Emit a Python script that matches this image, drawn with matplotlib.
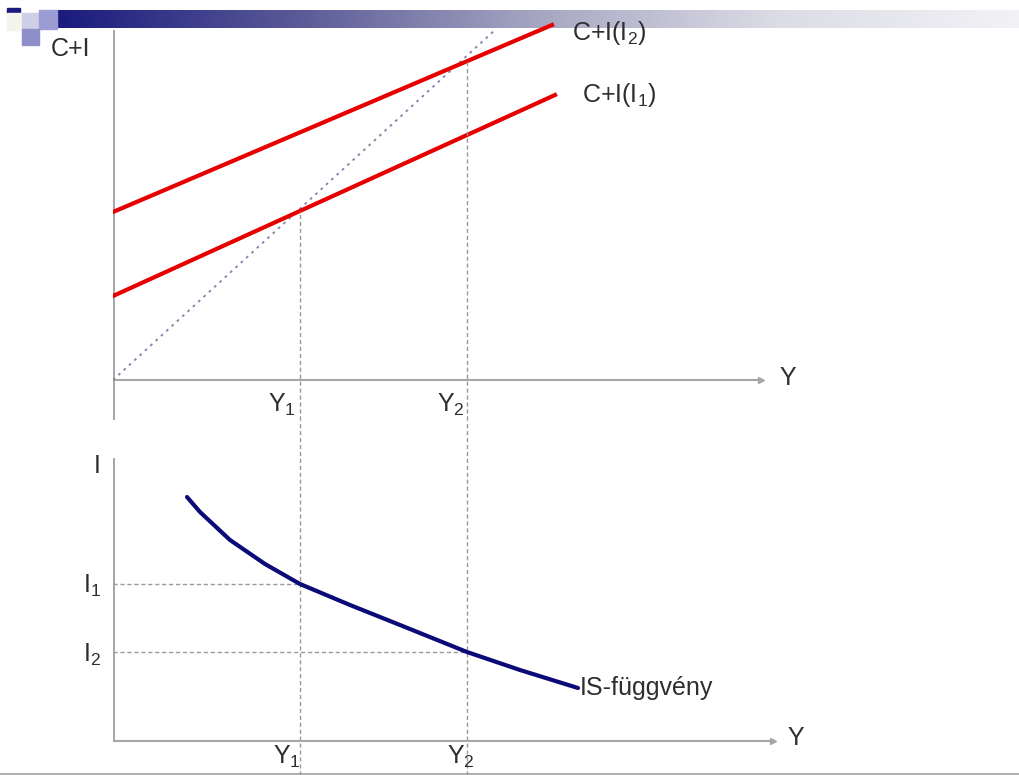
import numpy as np
import matplotlib
matplotlib.use("Agg")
import matplotlib.pyplot as plt
from matplotlib.patches import Rectangle

plt.rcParams['font.family'] = ['Liberation Sans', 'DejaVu Sans']
plt.rcParams['mathtext.fontset'] = 'custom'
plt.rcParams['mathtext.rm'] = 'Liberation Sans'
plt.rcParams['mathtext.default'] = 'regular'

# values (1 unit = 50 px)
Y1 = 3.74
Y2 = 7.08
I1 = 3.14
I2 = 1.78

line45_x = [0.0, 7.64]
line45_y = [0.0, 7.0]
ci1_x = [0.0, 8.84]
ci1_y = [1.68, 5.7]
ci2_x = [0.0, 8.78]
ci2_y = [3.36, 7.1]

is_x = [1.48, 1.74, 2.34, 3.04, 3.74, 4.74, 5.74, 7.08, 8.14, 9.3]
is_y = [4.88, 4.58, 4.02, 3.54, 3.14, 2.72, 2.32, 1.78, 1.42, 1.06]

label_color = '#2e2e2e'
axis_color = '#a6a6a6'
dash_color = '#9a9a9a'
fs = 18

W, H = 1019, 775
fig = plt.figure(figsize=(W / 100, H / 100), dpi=100)

# slide decoration at the top
deco = fig.add_axes([0, 0, 1, 1])
deco.axis('off')
grad = np.linspace(0, 1, 256)[None, :]
cmap = matplotlib.colors.LinearSegmentedColormap.from_list(
    'bar', ['#1a1a7e', '#5a5a98', '#a6a6c2', '#dcdce6', '#f2f2f6'])
deco.imshow(grad, cmap=cmap, extent=[57, W, 28, 10], aspect='auto')
deco.add_patch(Rectangle((7, 8), 13, 5, color='#1a1a7e'))
deco.add_patch(Rectangle((7, 13), 15, 17, color='#f4f4ec'))
deco.add_patch(Rectangle((22, 13), 17, 16, color='#cfcfe8'))
deco.add_patch(Rectangle((39, 10), 18, 19, color='#9c9cd4'))
deco.add_patch(Rectangle((22, 29), 17, 16, color='#8e8ec8'))
deco.plot([0, W], [773.5, 773.5], color='#b0b0b0', lw=1.5)
deco.set_xlim(0, W)
deco.set_ylim(H, 0)

left = 113 / W
width = 700 / W

# upper panel: C+I
ax1 = fig.add_axes([left, (H - 420) / H, width, 400 / H])
ax1.set_xlim(0, 14)
ax1.set_ylim(-0.8, 7.2)
ax1.axis('off')

ax1.plot([0, 0], [-0.8, 7.0], color=axis_color, lw=2.8, solid_capstyle='butt')
ax1.plot([0, 12.95], [0, 0], color=axis_color, lw=1.5)
ax1.plot([12.95], [0], marker='>', ms=4, color=axis_color)

ax1.plot(line45_x, line45_y, color='#7f84a8', lw=1.3, ls=(0, (1.5, 2.5)))
ax1.plot(ci1_x, ci1_y, color='#e60000', lw=3)
ax1.plot(ci2_x, ci2_y, color='#e60000', lw=3)

y1_top = np.interp(Y1, ci1_x, ci1_y)
y2_top = np.interp(Y2, ci2_x, ci2_y)
ax1.plot([Y1, Y1], [-0.8, y1_top], color=dash_color, lw=1, ls=(0, (3, 2)))
ax1.plot([Y2, Y2], [-0.8, y2_top], color=dash_color, lw=1, ls=(0, (3, 2)))

ax1.text(-0.86, 6.62, 'C+I', fontsize=fs, color=label_color, ha='center', va='center')
ax1.text(13.5, 0.04, 'Y', fontsize=fs, color=label_color, ha='center', va='center')
ax1.text(Y1 - 0.36, -0.5, 'Y$_1$', fontsize=fs, color=label_color, ha='center', va='center')
ax1.text(Y2 - 0.32, -0.5, 'Y$_2$', fontsize=fs, color=label_color, ha='center', va='center')
ax1.text(9.18, 6.94, 'C+I(I$_2$)', fontsize=fs, color=label_color, ha='left', va='center')
ax1.text(9.38, 5.7, 'C+I(I$_1$)', fontsize=fs, color=label_color, ha='left', va='center')

# lower panel: IS curve
ax2 = fig.add_axes([left, 0, width, 355 / H])
ax2.set_xlim(0, 14)
ax2.set_ylim(-0.68, 6.42)
ax2.axis('off')

ax2.plot([0, 0], [0, 5.66], color=axis_color, lw=2.8, solid_capstyle='butt')
ax2.plot([0, 13.2], [0, 0], color=axis_color, lw=1.5)
ax2.plot([13.2], [0], marker='>', ms=4, color=axis_color)

ax2.plot([Y1, Y1], [-0.68, 6.42], color=dash_color, lw=1, ls=(0, (3, 2)))
ax2.plot([Y2, Y2], [-0.68, 6.42], color=dash_color, lw=1, ls=(0, (3, 2)))
ax2.plot([0, Y1], [I1, I1], color=dash_color, lw=1, ls=(0, (3, 2)))
ax2.plot([0, Y2], [I2, I2], color=dash_color, lw=1, ls=(0, (3, 2)))

ax2.plot(is_x, is_y, color='#0a0a78', lw=3, solid_capstyle='round', solid_joinstyle='round')

ax2.text(-0.32, 5.5, 'I', fontsize=fs, color=label_color, ha='center', va='center')
ax2.text(-0.42, I1 - 0.04, 'I$_1$', fontsize=fs, color=label_color, ha='center', va='center')
ax2.text(-0.42, I2 - 0.06, 'I$_2$', fontsize=fs, color=label_color, ha='center', va='center')
ax2.text(9.34, 1.06, 'IS-függvény', fontsize=fs, color=label_color, ha='left', va='center')
ax2.text(13.66, 0.06, 'Y', fontsize=fs, color=label_color, ha='center', va='center')
ax2.text(Y1 - 0.26, -0.32, 'Y$_1$', fontsize=fs, color=label_color, ha='center', va='center')
ax2.text(Y2 - 0.12, -0.32, 'Y$_2$', fontsize=fs, color=label_color, ha='center', va='center')

fig.savefig('out.png', dpi=100)
